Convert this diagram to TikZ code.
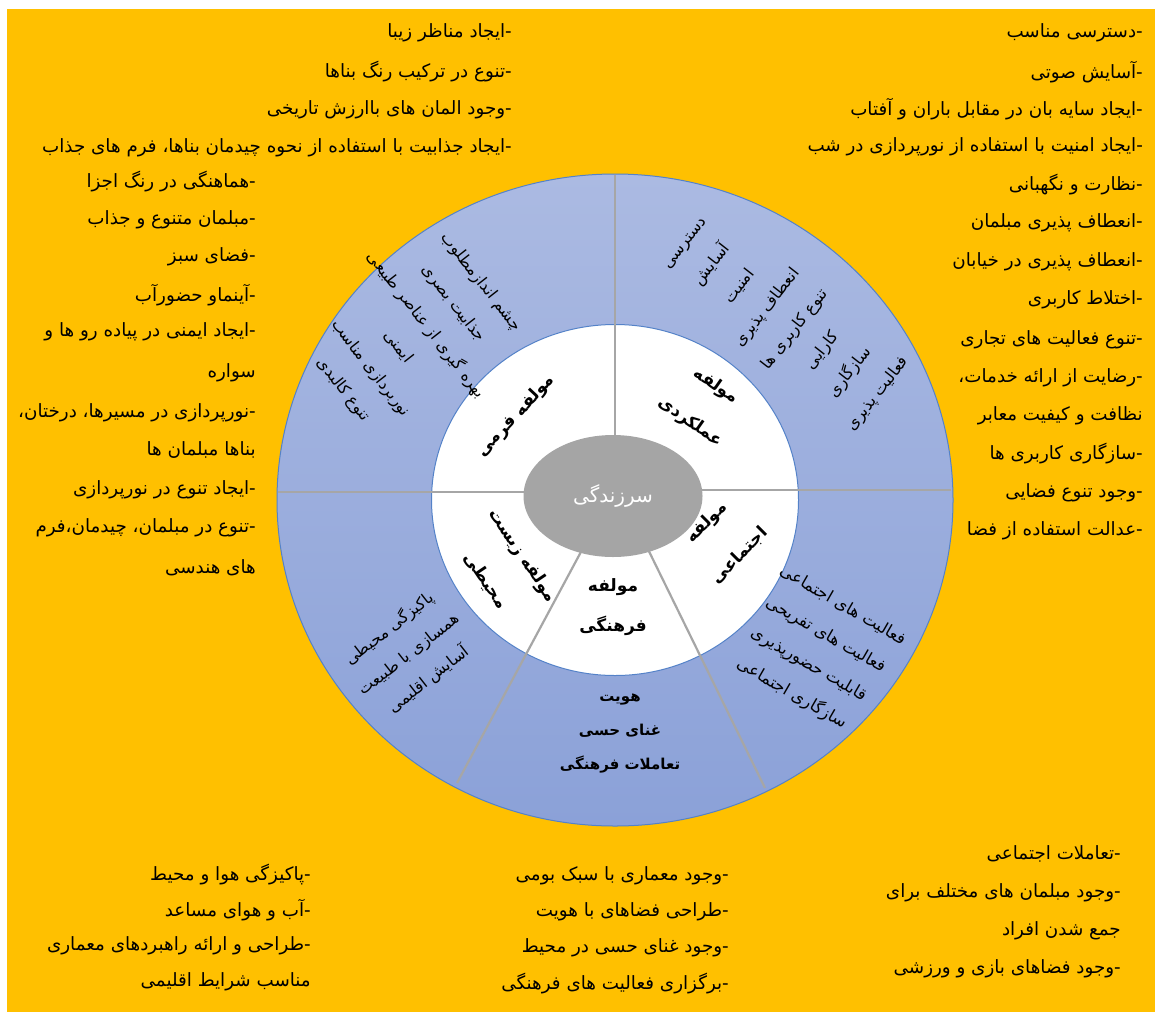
\documentclass[tikz,border=0pt]{standalone}
\usepackage{fontspec}
\usetikzlibrary{shapes.geometric}
\newfontfamily\fa[Script=Arabic]{DejaVu Sans}
\TeXXeTstate=1
\newcommand\rl[1]{\beginR #1\endR}
\definecolor{bgyellow}{RGB}{255,192,0}
\definecolor{ringtop}{RGB}{171,186,226}
\definecolor{ringbot}{RGB}{139,161,216}
\definecolor{rimblue}{RGB}{84,130,200}
\definecolor{divgray}{RGB}{166,166,166}
\definecolor{coregray}{RGB}{165,165,165}
\begin{document}
\begin{tikzpicture}[x=1pt,y=-1pt,
  listitem/.style={anchor=east, inner sep=0pt, font=\fa\fontsize{18.3}{20}\selectfont},
  ringtxt/.style={align=center, inner sep=0pt, font=\fa\fontsize{16}{35}\selectfont},
  comptxt/.style={align=center, inner sep=0pt, font=\fa\bfseries\fontsize{17}{44}\selectfont},
  divline/.style={draw=divgray, line width=2.2pt}
]
\useasboundingbox (0,0) rectangle (1155,1012);
\fill[white] (0,0) rectangle (1155,1012);
\fill[bgyellow] (7,9) rectangle (1155,1012);

% rings
\node[ellipse, draw=rimblue, line width=1pt, top color=ringtop, bottom color=ringbot,
      minimum width=676pt, minimum height=652pt, inner sep=0pt] (outer) at (615,500) {};
\node[ellipse, draw=rimblue, line width=1pt, fill=white,
      minimum width=367pt, minimum height=351pt, inner sep=0pt] (inner) at (615,500) {};

% dividers
\coordinate (vtop) at (615,175);
\coordinate (vin) at (615,470);
\coordinate (hlout) at (278,492);
\coordinate (hlin) at (580,492);
\coordinate (hrout) at (951,490);
\coordinate (hrin) at (650,490);
\coordinate (llout) at (457,783);
\coordinate (llin) at (590,535);
\coordinate (lrout) at (765,788);
\coordinate (lrin) at (640,533);
\draw[divline] (vtop) -- (vin);
\draw[divline] (hlout) -- (hlin);
\draw[divline] (hrout) -- (hrin);
\draw[divline] (llout) -- (llin);
\draw[divline] (lrout) -- (lrin);

% core
\node[ellipse, fill=coregray, minimum width=179pt, minimum height=122pt, inner sep=0pt,
      text=white, font=\fa\fontsize{20}{22}\selectfont] (core) at (613,496) {\rl{سرزندگی}};

% component labels
\node[comptxt, rotate=47] (cform) at (516,416) {\rl{مولفه فرمی}};
\node[comptxt, rotate=-35] (cfunc) at (703,404) {\rl{مولفه}\\\rl{عملکردی}};
\node[comptxt, rotate=45, font=\fa\bfseries\fontsize{17}{47}\selectfont] (csoc) at (723,539) {\rl{مولفه}\\\rl{اجتماعی}};
\node[comptxt, font=\fa\bfseries\fontsize{17}{40}\selectfont] (ccult) at (613,607) {\rl{مولفه}\\\rl{فرهنگی}};
\node[comptxt, rotate=-56, font=\fa\bfseries\fontsize{17}{45}\selectfont] (cenv) at (504,568) {\rl{مولفه زیست}\\\rl{محیطی}};

% ring texts
\node[ringtxt, rotate=-52] (rform) at (412,336) {\rl{چشم اندازمطلوب}\\\rl{جذابیت بصری}\\\rl{بهره گیری از عناصر طبیعی}\\\rl{ایمنی}\\\rl{نوربردازی مناسب}\\\rl{تنوع کالبدی}};
\node[ringtxt, rotate=52] (rfunc) at (783,320) {\rl{دسترسی}\\\rl{آسایش}\\\rl{امنیت}\\\rl{انعطاف پذیری}\\\rl{تنوع کاربری ها}\\\rl{کارایی}\\\rl{سازگاری}\\\rl{فعالیت پذیری}};
\node[ringtxt, rotate=-30, font=\fa\fontsize{16.5}{34}\selectfont] (rsoc) at (817,650) {\rl{فعالیت های اجتماعی}\\\rl{فعالیت های تفریحی}\\\rl{قابلیت حضورپذیری}\\\rl{سازگاری اجتماعی}};
\node[ringtxt, font=\fa\bfseries\fontsize{15}{34}\selectfont] (rcult) at (620,734) {\rl{هویت}\\\rl{غنای حسی}\\\rl{تعاملات  فرهنگی}};
\node[ringtxt, rotate=38, font=\fa\fontsize{16}{32}\selectfont] (renv) at (409,654) {\rl{پاکیزگی محیطی}\\\rl{همسازی با طبیعت}\\\rl{آسایش اقلیمی}};

% form list
\node[listitem] (fl1) at (512,33) {\rl{-ایجاد مناظر زیبا}};
\node[listitem] (fl2) at (512,72) {\rl{-تنوع در ترکیب رنگ بناها}};
\node[listitem] (fl3) at (512,110) {\rl{-وجود المان های باارزش تاریخی}};
\node[listitem] (fl4) at (512,148) {\rl{-ایجاد جذابیت با استفاده از نحوه چیدمان بناها، فرم های جذاب}};
\node[listitem] (fl5) at (256,182) {\rl{-هماهنگی در رنگ اجزا}};
\node[listitem] (fl6) at (256,220) {\rl{-مبلمان متنوع و جذاب}};
\node[listitem] (fl7) at (256,257) {\rl{-فضای سبز}};
\node[listitem] (fl8) at (256,295) {\rl{-آینماو حضورآب}};
\node[listitem] (fl9) at (256,332) {\rl{-ایجاد ایمنی در پیاده رو ها و}};
\node[listitem] (fl10) at (256,373) {\rl{سواره}};
\node[listitem] (fl11) at (256,413) {\rl{-نورپردازی در مسیرها، درختان،}};
\node[listitem] (fl12) at (256,450) {\rl{بناها مبلمان ها}};
\node[listitem] (fl13) at (256,490) {\rl{-ایجاد تنوع در نورپردازی}};
\node[listitem] (fl14) at (256,528) {\rl{-تنوع در مبلمان، چیدمان،فرم}};
\node[listitem] (fl15) at (256,568) {\rl{های هندسی}};

% functional list
\node[listitem] (ul1) at (1143,33) {\rl{-دسترسی مناسب}};
\node[listitem] (ul2) at (1143,72) {\rl{-آسایش صوتی}};
\node[listitem] (ul3) at (1143,109) {\rl{-ایجاد سایه بان در مقابل باران و آفتاب}};
\node[listitem] (ul4) at (1143,147) {\rl{-ایجاد امنیت با استفاده از نورپردازی در شب}};
\node[listitem] (ul5) at (1143,185) {\rl{-نظارت و نگهبانی}};
\node[listitem] (ul6) at (1143,223) {\rl{-انعطاف پذیری مبلمان}};
\node[listitem] (ul7) at (1143,262) {\rl{-انعطاف پذیری در خیابان}};
\node[listitem] (ul8) at (1143,300) {\rl{-اختلاط کاربری}};
\node[listitem] (ul9) at (1143,340) {\rl{-تنوع فعالیت های تجاری}};
\node[listitem] (ul10) at (1143,378) {\rl{-رضایت از ارائه خدمات،}};
\node[listitem] (ul11) at (1143,416) {\rl{نظافت و کیفیت معابر}};
\node[listitem] (ul12) at (1143,454) {\rl{-سازگاری کاربری ها}};
\node[listitem] (ul13) at (1143,493) {\rl{-وجود تنوع فضایی}};
\node[listitem] (ul14) at (1143,531) {\rl{-عدالت استفاده از فضا}};

% environmental list
\node[listitem] (el1) at (311,875) {\rl{-پاکیزگی هوا و محیط}};
\node[listitem] (el2) at (311,910) {\rl{-آب و هوای مساعد}};
\node[listitem] (el3) at (311,946) {\rl{-طراحی و ارائه راهبردهای معماری}};
\node[listitem] (el4) at (311,982) {\rl{مناسب شرایط اقلیمی}};

% cultural list
\node[listitem] (cl1) at (729,876) {\rl{-وجود معماری با سبک بومی}};
\node[listitem] (cl2) at (729,912) {\rl{-طراحی فضاهای با هویت}};
\node[listitem] (cl3) at (729,948) {\rl{-وجود غنای حسی در محیط}};
\node[listitem] (cl4) at (729,984) {\rl{-برگزاری فعالیت های فرهنگی}};

% social list
\node[listitem] (sl1) at (1121,854) {\rl{-تعاملات اجتماعی}};
\node[listitem] (sl2) at (1121,893) {\rl{-وجود مبلمان های مختلف برای}};
\node[listitem] (sl3) at (1121,931) {\rl{جمع شدن افراد}};
\node[listitem] (sl4) at (1121,969) {\rl{-وجود فضاهای بازی و ورزشی}};
\end{tikzpicture}
\end{document}
